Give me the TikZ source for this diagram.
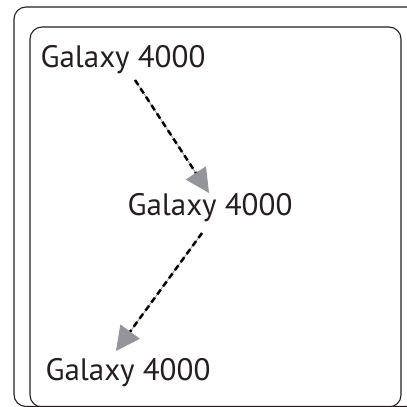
\documentclass[tikz,border=0pt]{standalone}
\usepackage{fontspec}
\setmainfont{PT Sans}
\usetikzlibrary{arrows.meta,calc}
\definecolor{ink}{HTML}{231F20}
\definecolor{headgray}{HTML}{939598}
\tikzset{
  frame/.style={draw=ink, line width=1.1pt, rounded corners=12pt},
  label/.style={font=\fontsize{31}{37}\selectfont, text=ink, inner sep=0pt, anchor=base},
  guide/.style={draw=headgray, line width=0.8pt, -{Triangle[length=24pt,width=24pt,fill=headgray]}, color=headgray},
  dashes/.style={draw=black, line width=2.5pt, dash pattern=on 6pt off 4pt},
}
\begin{document}
\begin{tikzpicture}[x=1pt,y=-1pt]
\useasboundingbox (0,0) rectangle (407,407);
\draw[frame] (14,7) rectangle (422,406.5);
\draw[frame] (30,27) rectangle (401,407);
\node[label] (n1) at (123,67) {Galaxy 4000};
\node[label] (n2) at (210,215) {Galaxy 4000};
\node[label] (n3) at (128,380) {Galaxy 4000};
\coordinate (s1) at ($(n1.base)+(12,13)$);
\coordinate (e1) at ($(n2.base)+(-1,-22)$);
\coordinate (s2) at ($(n2.base)+(-8,18)$);
\coordinate (e2) at ($(n3.base)+(-12,-29)$);
\draw[guide] (s1) -- (e1);
\draw[dashes, shorten >=24pt] (s1) -- (e1);
\draw[guide] (s2) -- (e2);
\draw[dashes, shorten >=24pt] (s2) -- (e2);
\end{tikzpicture}
\end{document}
